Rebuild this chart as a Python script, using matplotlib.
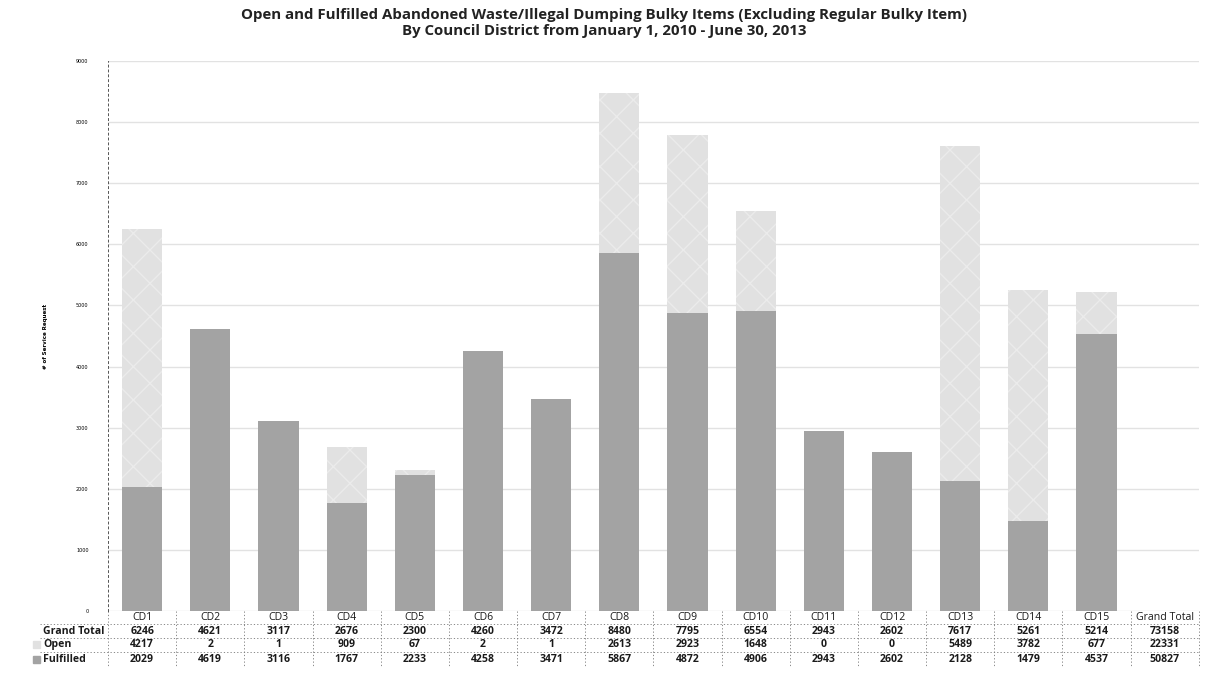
import matplotlib.pyplot as plt
import numpy as np

districts = ["CD1", "CD2", "CD3", "CD4", "CD5", "CD6", "CD7", "CD8",
             "CD9", "CD10", "CD11", "CD12", "CD13", "CD14", "CD15"]
open_req = [4217, 2, 1, 909, 67, 2, 1, 2613, 2923, 1648, 0, 0, 5489, 3782, 677]
fulfilled = [2029, 4619, 3116, 1767, 2233, 4258, 3471, 5867, 4872, 4906,
             2943, 2602, 2128, 1479, 4537]

totals = [o + f for o, f in zip(open_req, fulfilled)]

FULFILLED_COLOR = "#a3a3a3"
OPEN_COLOR = "#e1e1e1"

fig = plt.figure(figsize=(12.08, 6.86), dpi=100)
ax = fig.add_axes([0.0894, 0.1093, 0.903, 0.8017])

x = np.arange(len(districts))
ax.bar(x, fulfilled, width=0.59, color=FULFILLED_COLOR, zorder=2)
ax.bar(x, open_req, width=0.59, bottom=fulfilled, color=OPEN_COLOR,
       hatch="x", edgecolor="#ebebeb", linewidth=0, zorder=2)

ax.set_xlim(-0.5, 15.5)
ax.set_ylim(0, 9000)
ax.set_yticks(np.arange(0, 9001, 1000))
ax.tick_params(axis="y", labelsize=3.5, length=0, pad=14)
ax.set_xticks([])
ax.yaxis.grid(True, color="#e2e2e2", linewidth=1)
ax.set_axisbelow(True)
for side in ["top", "right", "bottom"]:
    ax.spines[side].set_visible(False)
ax.spines["left"].set_linestyle((0, (2, 3)))
ax.spines["left"].set_color("#555555")
ax.spines["left"].set_linewidth(0.7)
ax.set_ylabel("# of Service Request", fontsize=4, fontweight="bold", labelpad=20)

fig.text(0.5, 0.978, "Open and Fulfilled Abandoned Waste/Illegal Dumping Bulky Items "
         "(Excluding Regular Bulky Item)", ha="center", va="center",
         fontsize=10.8, fontweight="bold", family="Open Sans", color="#222222")
fig.text(0.5, 0.955, "By Council District from January 1, 2010 - June 30, 2013",
         ha="center", va="center", fontsize=10.8, fontweight="bold",
         family="Open Sans", color="#222222")

# data table below the plot
tr = ax.get_xaxis_transform()
row_y = [-0.012, -0.037, -0.061, -0.088]
col_labels = districts + ["Grand Total"]
rows = [
    ("Grand Total", totals + [sum(totals)]),
    ("Open", open_req + [sum(open_req)]),
    ("Fulfilled", fulfilled + [sum(fulfilled)]),
]
tkw = dict(transform=tr, ha="center", va="center", fontsize=7.6,
           family="Open Sans", color="#1a1a1a", clip_on=False)
for i, lab in enumerate(col_labels):
    ax.text(i, row_y[0], lab, **tkw)
for r, (name, vals) in enumerate(rows):
    for i, v in enumerate(vals):
        ax.text(i, row_y[r + 1], str(v), fontweight="bold", **tkw)
    ax.text(-1.45, row_y[r + 1], name, transform=tr, ha="left", va="center",
            fontsize=7.6, fontweight="bold", family="Open Sans",
            color="#1a1a1a", clip_on=False)

# legend keys in front of the series rows
ax.add_patch(plt.Rectangle((-1.6, row_y[2] - 0.007), 0.1, 0.014,
                           transform=tr, color=OPEN_COLOR, clip_on=False))
ax.add_patch(plt.Rectangle((-1.6, row_y[3] - 0.007), 0.1, 0.014,
                           transform=tr, color=FULFILLED_COLOR, clip_on=False))

# grid lines of the table
line_kw = dict(transform=tr, color="#777777", linewidth=0.6,
               linestyle=(0, (1.5, 2.5)), clip_on=False)
for yb in [-0.024, -0.049, -0.074]:
    ax.plot([-1.5, 15.5], [yb, yb], **line_kw)
for i in range(16):
    ax.plot([i - 0.5, i - 0.5], [0, -0.1], **line_kw)
ax.plot([15.5, 15.5], [0, -0.1], **line_kw)

fig.savefig("out.png", dpi=100, facecolor="white")
